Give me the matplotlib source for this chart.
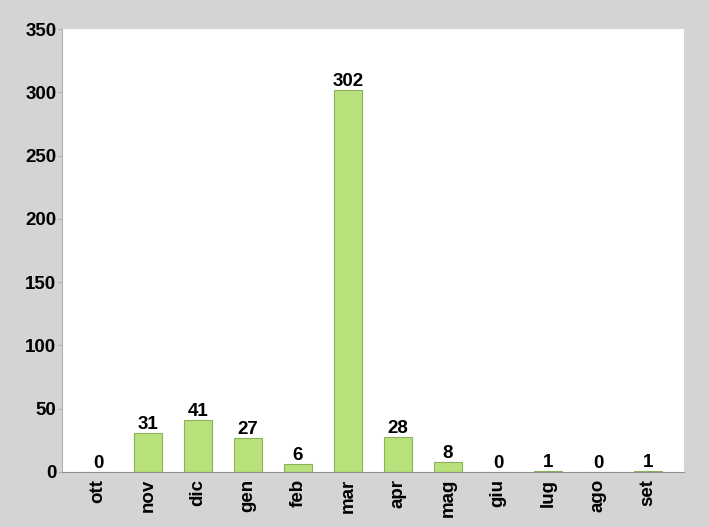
import matplotlib
matplotlib.use('Agg')
from matplotlib import pyplot as plt

months = ['ott', 'nov', 'dic', 'gen', 'feb', 'mar', 'apr', 'mag', 'giu', 'lug', 'ago', 'set']
counts = [0, 31, 41, 27, 6, 302, 28, 8, 0, 1, 0, 1]

plt.rcParams['font.family'] = ['Liberation Sans', 'DejaVu Sans']

fig = plt.figure(figsize=(7.09, 5.27), dpi=100)
fig.patch.set_facecolor('#d4d4d4')
ax = fig.add_axes([62/709, 1 - 472/527, (684 - 62)/709, (472 - 29)/527])
ax.set_facecolor('white')

x = range(len(months))
bars = ax.bar(x, counts, width=0.56, color='#b9e17b', edgecolor='#8cb05a', linewidth=0.8)

for xi, v in zip(x, counts):
    ax.text(xi, v, str(v), ha='center', va='bottom', fontsize=13.5, fontweight='bold')

ax.set_xlim(-0.72, 11.72)
ax.set_ylim(0, 350)
ax.set_yticks(range(0, 351, 50))
ax.set_xticks(list(x))
ax.set_xticklabels(months, rotation=90, fontsize=13.5, fontweight='bold')
for lbl in ax.get_yticklabels():
    lbl.set_fontsize(13.5)
    lbl.set_fontweight('bold')

ax.spines['top'].set_visible(False)
ax.spines['right'].set_visible(False)
ax.spines['left'].set_color('#a8b4bc')
ax.spines['bottom'].set_color('#909090')
ax.tick_params(axis='y', length=3, color='#a8b4bc', pad=1)
ax.tick_params(axis='x', length=0, pad=5)

plt.savefig('out.png', dpi=100, facecolor=fig.get_facecolor())
